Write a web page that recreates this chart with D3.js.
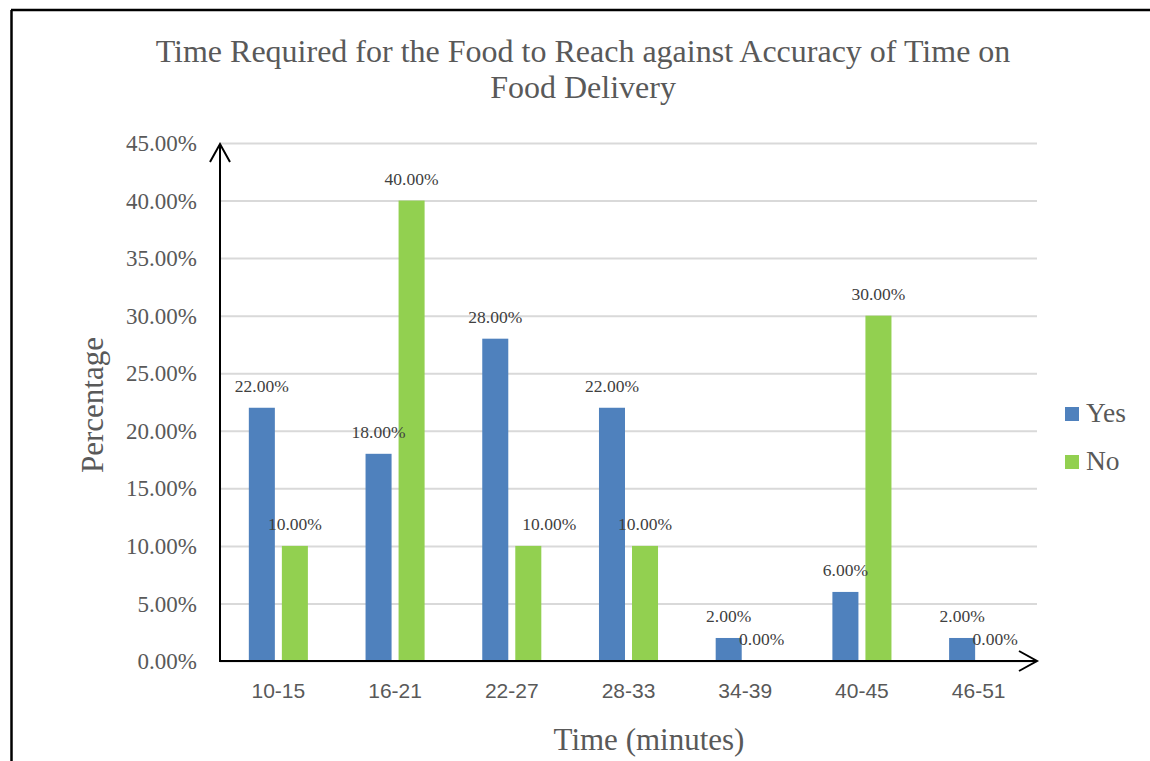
<!DOCTYPE html>
<html>
<head>
<meta charset="utf-8">
<script src="https://cdn.jsdelivr.net/npm/d3@7"></script>
<style>
  html, body { margin: 0; padding: 0; background: #fff; }
  svg { display: block; }
</style>
</head>
<body>
<svg id="chart" width="1150" height="761"></svg>
<script>
// Delivery time buckets (minutes) and share of respondents per answer
const categories = ["10-15", "16-21", "22-27", "28-33", "34-39", "40-45", "46-51"];
const seriesNames = ["Yes", "No"];
const yesValues = [0.22, 0.18, 0.28, 0.22, 0.02, 0.06, 0.02];
const noValues  = [0.10, 0.40, 0.10, 0.10, 0.00, 0.30, 0.00];
const yTicks = [0, 0.05, 0.10, 0.15, 0.20, 0.25, 0.30, 0.35, 0.40, 0.45];

const colors = { Yes: "#4f81bd", No: "#92d050" };
const serif = "'Liberation Serif', 'Times New Roman', serif";
const sans = "'Liberation Sans', Arial, sans-serif";

const svg = d3.select("#chart");
const W = 1150, H = 761;
const plot = { left: 220, right: 1037, top: 143, bottom: 661 };

// outer frame (top and left edges)
svg.append("line").attr("x1", 11).attr("x2", W).attr("y1", 10).attr("y2", 10)
  .attr("stroke", "#000").attr("stroke-width", 2.5);
svg.append("line").attr("x1", 11.5).attr("x2", 11.5).attr("y1", 10).attr("y2", H)
  .attr("stroke", "#000").attr("stroke-width", 2.5);

const x = d3.scaleBand().domain(categories).range([plot.left, plot.right]).padding(0);
const bw = x.bandwidth();
const groupW = bw * 0.506;
const xs = d3.scaleBand().domain(seriesNames)
  .range([bw / 2 - groupW / 2, bw / 2 + groupW / 2]).paddingInner(0.212);
const y = d3.scaleLinear().domain([0, 0.45]).range([plot.bottom, plot.top]);

// title
const title = svg.append("text")
  .attr("x", 583).attr("text-anchor", "middle")
  .attr("font-family", serif).attr("font-size", 32).attr("fill", "#595959");
title.append("tspan").attr("x", 583).attr("y", 62)
  .text("Time Required for the Food to Reach against Accuracy of Time on");
title.append("tspan").attr("x", 583).attr("y", 98).text("Food Delivery");

// gridlines
svg.append("g")
  .attr("transform", `translate(${plot.left},0)`)
  .call(d3.axisLeft(y).tickValues(yTicks).tickSize(-(plot.right - plot.left)).tickFormat(""))
  .call(g => g.select(".domain").remove())
  .call(g => g.selectAll(".tick line").attr("stroke", "#d9d9d9").attr("stroke-width", 2));

// y tick labels
svg.append("g")
  .attr("transform", `translate(197,0)`)
  .call(d3.axisLeft(y).tickValues(yTicks).tickSize(0).tickPadding(0).tickFormat(d3.format(".2%")))
  .call(g => g.select(".domain").remove())
  .call(g => g.selectAll(".tick text")
    .attr("font-family", serif).attr("font-size", 23).attr("fill", "#595959")
    .attr("dy", "0.33em"));

// bars
const rows = categories.map((c, i) => ({ cat: c, Yes: yesValues[i], No: noValues[i] }));
const groups = svg.append("g").selectAll("g").data(rows).join("g")
  .attr("transform", d => `translate(${x(d.cat)},0)`);

groups.selectAll("rect")
  .data(d => seriesNames.map(s => ({ cat: d.cat, key: s, value: d[s] })))
  .join("rect")
  .attr("x", d => xs(d.key))
  .attr("width", xs.bandwidth())
  .attr("y", d => y(d.value))
  .attr("height", d => y(0) - y(d.value))
  .attr("fill", d => colors[d.key]);

// value labels (one label shifted sideways to keep it clear of the neighbouring bar)
const labelShift = { "22-27|No": 21 };
groups.selectAll("text.val")
  .data(d => seriesNames.map(s => ({ cat: d.cat, key: s, value: d[s] })))
  .join("text")
  .attr("class", "val")
  .attr("x", d => xs(d.key) + xs.bandwidth() / 2 + (labelShift[d.cat + "|" + d.key] || 0))
  .attr("y", d => y(d.value) - 16)
  .attr("text-anchor", "middle")
  .attr("font-family", serif).attr("font-size", 17.5).attr("fill", "#404040")
  .text(d => d3.format(".2%")(d.value));

// axes with arrow heads
const axisG = svg.append("g").attr("stroke", "#000").attr("stroke-width", 2).attr("fill", "none");
axisG.append("path").attr("d", `M${plot.left},${plot.bottom}V${plot.top + 1}`);
axisG.append("path").attr("d", `M${plot.left - 10},${plot.top + 19}L${plot.left},${plot.top + 1}L${plot.left + 10},${plot.top + 19}`);
axisG.append("path").attr("d", `M${plot.left - 1},${plot.bottom}H${plot.right}`);
axisG.append("path").attr("d", `M${plot.right - 18},${plot.bottom - 10}L${plot.right},${plot.bottom}L${plot.right - 18},${plot.bottom + 10}`);

// x tick labels
svg.append("g")
  .attr("transform", `translate(0,${plot.bottom})`)
  .call(d3.axisBottom(x).tickSize(0).tickPadding(0))
  .call(g => g.select(".domain").remove())
  .call(g => g.selectAll(".tick text")
    .attr("font-family", sans).attr("font-size", 21).attr("fill", "#595959")
    .attr("dy", null).attr("y", 37));

// axis titles
svg.append("text")
  .attr("x", 649).attr("y", 750).attr("text-anchor", "middle")
  .attr("font-family", serif).attr("font-size", 31).attr("fill", "#595959")
  .text("Time (minutes)");
svg.append("text")
  .attr("transform", "translate(103,405) rotate(-90)")
  .attr("text-anchor", "middle")
  .attr("font-family", serif).attr("font-size", 31).attr("fill", "#595959")
  .text("Percentage");

// legend
const legend = svg.append("g").selectAll("g").data(seriesNames).join("g")
  .attr("transform", (d, i) => `translate(1065,${407 + i * 48})`);
legend.append("rect").attr("width", 14).attr("height", 14).attr("fill", d => colors[d]);
legend.append("text").attr("x", 21).attr("y", 15)
  .attr("font-family", serif).attr("font-size", 27.5).attr("fill", "#595959")
  .text(d => d);
</script>
</body>
</html>
